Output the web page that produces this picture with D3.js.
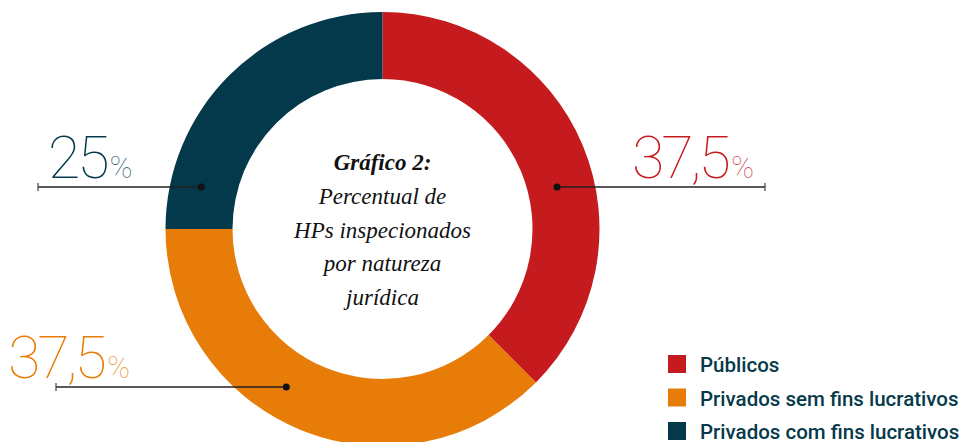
<!DOCTYPE html>
<html>
<head>
<meta charset="utf-8">
<script src="https://cdn.jsdelivr.net/npm/d3@7"></script>
<style>
body { margin: 0; background: #fff; }
</style>
</head>
<body>
<div id="vis"></div>
<script>
// data
var categories = ["Públicos", "Privados sem fins lucrativos", "Privados com fins lucrativos"];
var values = [37.5, 37.5, 25];
var valueLabels = ["37,5", "37,5", "25"];
var colors = ["#c51b1e", "#e87c08", "#03394a"];
var titleLines = ["Percentual de", "HPs inspecionados", "por natureza", "jurídica"];

var svg = d3.select("#vis").append("svg").attr("width", 963).attr("height", 442);

var cx = 382.5, cy = 229;
var rOut = 217, rIn = 150;

var pie = d3.pie().sort(null).value(function(d){ return d; });
var arc = d3.arc().innerRadius(rIn).outerRadius(rOut);
var arcs = pie(values);

var g = svg.append("g").attr("transform", "translate(" + cx + "," + cy + ")");
g.selectAll("path").data(arcs).enter().append("path")
    .attr("d", arc)
    .attr("fill", function(d, i){ return colors[i]; });

// callouts: dot on the ring, line out to the label side
var callouts = [
    {i: 0, y: 187, end: 765, tx: 632, r: 179.5},
    {i: 1, y: 387, end: 56, tx: 8, r: 185},
    {i: 2, y: 187, end: 38, tx: 48, r: 186}
];
callouts.forEach(function(c){
    var dy = c.y - cy;
    var dx = Math.sqrt(c.r * c.r - dy * dy);
    var a = arcs[c.i];
    var mid = (a.startAngle + a.endAngle) / 2;
    var px = cx + (Math.sin(mid) >= 0 ? dx : -dx);
    svg.append("line").attr("x1", px).attr("y1", c.y).attr("x2", c.end).attr("y2", c.y)
        .attr("stroke", "#222").attr("stroke-width", 1.5);
    svg.append("line").attr("x1", c.end).attr("y1", c.y - 4).attr("x2", c.end).attr("y2", c.y + 4)
        .attr("stroke", "#444").attr("stroke-width", 1.2);
    svg.append("circle").attr("cx", px).attr("cy", c.y).attr("r", 3.5).attr("fill", "#111");
    var t = svg.append("text").attr("x", c.tx).attr("y", c.y - 9)
        .attr("font-family", "Roboto").attr("font-weight", 100)
        .attr("fill", colors[c.i]);
    t.append("tspan").attr("font-size", 59).attr("letter-spacing", -3).text(valueLabels[c.i]);
    t.append("tspan").attr("font-size", 31).attr("dx", 3).attr("fill-opacity", 0.75).text("%");
});

// center title
var title = svg.append("text").attr("text-anchor", "middle")
    .attr("font-family", "Liberation Serif").attr("font-style", "italic")
    .attr("font-size", 23).attr("fill", "#111");
title.append("tspan").attr("x", cx).attr("y", 170).attr("font-weight", "bold").text("Gráfico 2:");
titleLines.forEach(function(l, i){
    title.append("tspan").attr("x", cx).attr("y", 204 + i * 33.5).text(l);
});

// legend
var legend = svg.append("g");
categories.forEach(function(c, i){
    legend.append("rect").attr("x", 668).attr("y", 355 + i * 33.5).attr("width", 18).attr("height", 18)
        .attr("fill", colors[i]);
    legend.append("text").attr("x", 700).attr("y", 372 + i * 33.5)
        .attr("font-family", "Roboto").attr("font-weight", 500).attr("font-size", 20.5)
        .attr("fill", "#06394a").text(c);
});
</script>
</body>
</html>
